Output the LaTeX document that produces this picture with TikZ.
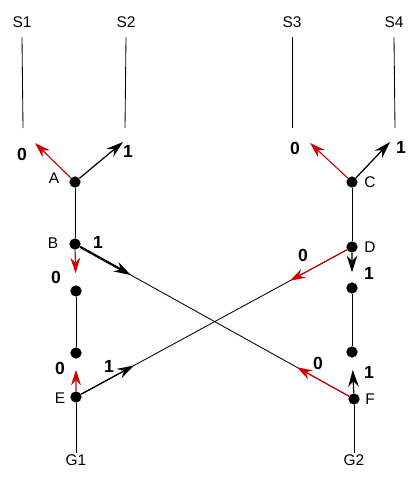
\documentclass[tikz,border=0pt]{standalone}
\usepackage{fontspec}
\setmainfont{Liberation Sans}
\usetikzlibrary{arrows.meta,calc}
\definecolor{swRed}{HTML}{D00000}
\tikzset{
  dot/.style={circle, fill=black, inner sep=0pt, minimum size=8pt},
  lbl/.style={font=\fontsize{11}{13}\selectfont, inner sep=1pt},
  bit/.style={font=\fontsize{12.5}{14}\selectfont\bfseries, inner sep=1pt},
  wire/.style={line width=0.6pt, black},
  zero/.style={-{Stealth[length=11pt, width=7pt]}, line width=0.8pt, swRed},
  one/.style={-{Stealth[length=12pt, width=7.5pt]}, line width=0.9pt, black},
  onethick/.style={-{Stealth[length=12pt, width=7.5pt]}, line width=1.6pt, black}
}
\begin{document}
\begin{tikzpicture}[x=0.025cm, y=-0.025cm]
  \useasboundingbox (0,0) rectangle (415,478);
  % switches and junctions
  \node[dot] (A) at (75,182) {};
  \node[dot] (B) at (75,244) {};
  \node[dot] (Bd) at (76,291) {};
  \node[dot] (Eu) at (76,353) {};
  \node[dot] (E) at (76,397) {};
  \node[dot] (C) at (352,182) {};
  \node[dot] (D) at (352,247) {};
  \node[dot] (Dd) at (352,288) {};
  \node[dot] (Fu) at (352,352) {};
  \node[dot] (F) at (354,399) {};
  \node[lbl] (labA) at (54,178) {A};
  \node[lbl] (labB) at (53,243) {B};
  \node[lbl] (labE) at (60,398) {E};
  \node[lbl] (labC) at (370,182) {C};
  \node[lbl] (labD) at (370,247) {D};
  \node[lbl] (labF) at (370,399) {F};
  % inputs and outputs
  \node[lbl] (S1) at (22,22) {S1};
  \node[lbl] (S2) at (126,22) {S2};
  \node[lbl] (S3) at (292,22) {S3};
  \node[lbl] (S4) at (394,22) {S4};
  \node[lbl] (G1) at (76,460) {G1};
  \node[lbl] (G2) at (354,460) {G2};
  \coordinate (s1e) at (23,128);
  \coordinate (s2e) at (125,128);
  \coordinate (s3e) at (292,128);
  \coordinate (s4e) at (395,128);
  \draw[wire] (S1.south) ++(0,8) -- (s1e);
  \draw[wire] (S2.south) ++(0,8) -- (s2e);
  \draw[wire] (S3.south) ++(0,8) -- (s3e);
  \draw[wire] (S4.south) ++(0,8) -- (s4e);
  \draw[wire] (A) -- (B);
  \draw[wire] (Bd) -- (Eu);
  \draw[wire] (E) -- (G1.north);
  \draw[wire] (C) -- (D);
  \draw[wire] (Dd) -- (Fu);
  \draw[wire] (F) -- (G2.north);
  % crossing links
  \draw[wire] (B) -- (F);
  \draw[wire] (D) -- (E);
  % switch settings
  \coordinate (a0) at (35,143);
  \coordinate (a1) at (123,142);
  \coordinate (c0) at (310,143);
  \coordinate (c1) at (390,142);
  \draw[zero] (A) -- (a0);
  \draw[one] (A) -- (a1);
  \draw[zero] (C) -- (c0);
  \draw[one] (C) -- (c1);
  \node[bit] (bitA0) at (22,154) {0};
  \node[bit] (bitA1) at (128,151) {1};
  \node[bit] (bitC0) at (295,148) {0};
  \node[bit] (bitC1) at (401,147) {1};
  \draw[onethick] (B) -- ($(B)!0.2!(F)$);
  \draw[zero] (B) -- ($(B)!0.62!(Bd)$);
  \node[bit] (bitB1) at (98,242) {1};
  \node[bit] (bitB0) at (56,277) {0};
  \draw[zero] (D) -- ($(D)!0.225!(E)$);
  \draw[one] (D) -- ($(D)!0.62!(Dd)$);
  \node[bit] (bitD0) at (303,255) {0};
  \node[bit] (bitD1) at (369,273) {1};
  \draw[one] (E) -- ($(E)!0.21!(D)$);
  \draw[zero] (E) -- ($(E)!0.62!(Eu)$);
  \node[bit] (bitE1) at (109,366) {1};
  \node[bit] (bitE0) at (60,368) {0};
  \draw[zero] (F) -- ($(F)!0.205!(B)$);
  \draw[one] (F) -- ($(F)!0.62!(Fu)$);
  \node[bit] (bitF0) at (318,363) {0};
  \node[bit] (bitF1) at (369,372) {1};
\end{tikzpicture}
\end{document}
